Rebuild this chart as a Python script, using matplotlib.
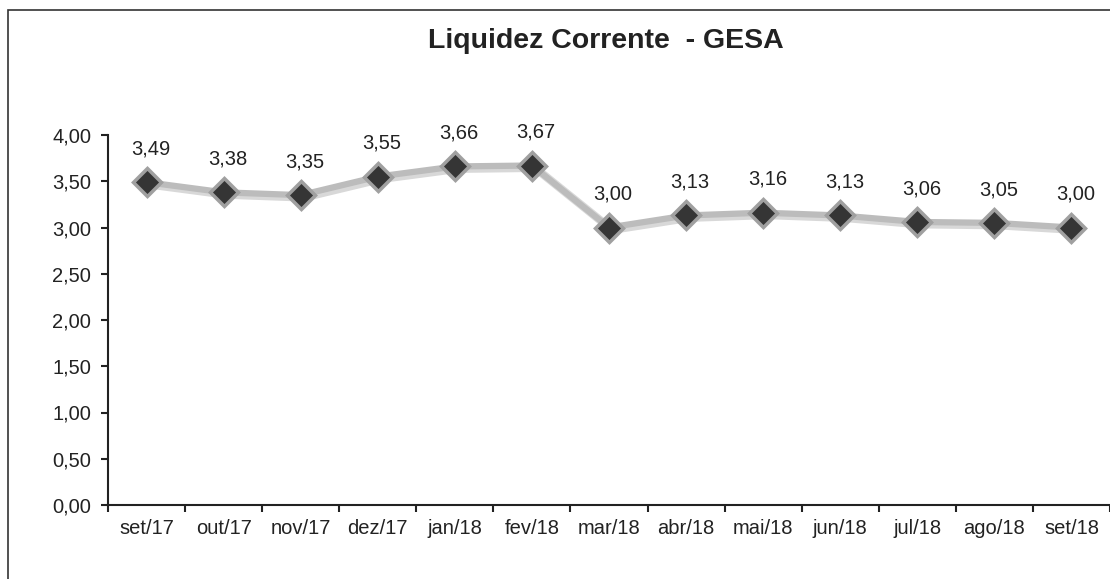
import matplotlib.pyplot as plt
from matplotlib.patches import Rectangle
from matplotlib.ticker import FixedLocator, FuncFormatter

plt.rcParams['font.family'] = ['Liberation Sans', 'DejaVu Sans']

meses = ['set/17', 'out/17', 'nov/17', 'dez/17', 'jan/18', 'fev/18', 'mar/18',
         'abr/18', 'mai/18', 'jun/18', 'jul/18', 'ago/18', 'set/18']
liquidez = [3.49, 3.38, 3.35, 3.55, 3.66, 3.67, 3.00, 3.13, 3.16, 3.13, 3.06, 3.05, 3.00]
y_ticks = [0.0, 0.5, 1.0, 1.5, 2.0, 2.5, 3.0, 3.5, 4.0]

fig = plt.figure(figsize=(11.1, 5.79), dpi=100)
fig.patch.set_facecolor('white')

# moldura externa do grafico
fig.patches.append(Rectangle((8 / 1110, -0.1), 1.2, 1 - 10 / 579 + 0.1,
                             transform=fig.transFigure, fill=False,
                             edgecolor='#333333', linewidth=1.2))

ax = fig.add_axes([108 / 1110, 1 - 505 / 579, 1 - 108 / 1110, (505 - 135) / 579])
x = list(range(len(meses)))

# sombra + linha
ax.plot([v + 0.04 for v in x], [v - 0.025 for v in liquidez], color='#d8d8d8', lw=6, zorder=1)
ax.plot(x, liquidez, color='#bcbcbc', lw=4.5, zorder=2)
ax.plot(x, liquidez, linestyle='none', marker='D', markersize=14,
        markerfacecolor='#353535', markeredgecolor='#a0a0a0', markeredgewidth=2.5, zorder=3)

for xi, v in zip(x, liquidez):
    ax.annotate(f'{v:.2f}'.replace('.', ','), (xi, v), xytext=(3, 24),
                textcoords='offset points', ha='center', va='center',
                fontsize=14.5, color='#222222')

ax.set_xlim(-0.5, len(meses) - 0.5)
ax.set_ylim(0, 4)
ax.set_yticks(y_ticks)
ax.yaxis.set_major_formatter(FuncFormatter(lambda v, p: f'{v:.2f}'.replace('.', ',')))
ax.set_xticks(x)
ax.set_xticklabels(meses)
ax.xaxis.set_minor_locator(FixedLocator([i - 0.5 for i in range(len(meses) + 1)]))
ax.tick_params(axis='x', which='major', length=0, pad=10, labelsize=14.5, colors='#222222')
ax.tick_params(axis='x', which='minor', length=5, width=1.5, direction='out', color='#222222')
ax.tick_params(axis='y', length=5, width=1.5, labelsize=14.5, colors='#222222', pad=7)

for s in ['top', 'right']:
    ax.spines[s].set_visible(False)
ax.spines['left'].set_linewidth(1.5)
ax.spines['bottom'].set_linewidth(1.5)
ax.spines['left'].set_color('#222222')
ax.spines['bottom'].set_color('#222222')

fig.text(606 / 1110, 1 - 41 / 579, 'Liquidez Corrente  - GESA', ha='center', va='center',
         fontsize=20.5, fontweight='bold', color='#222222')

fig.savefig('out.png', dpi=100)
